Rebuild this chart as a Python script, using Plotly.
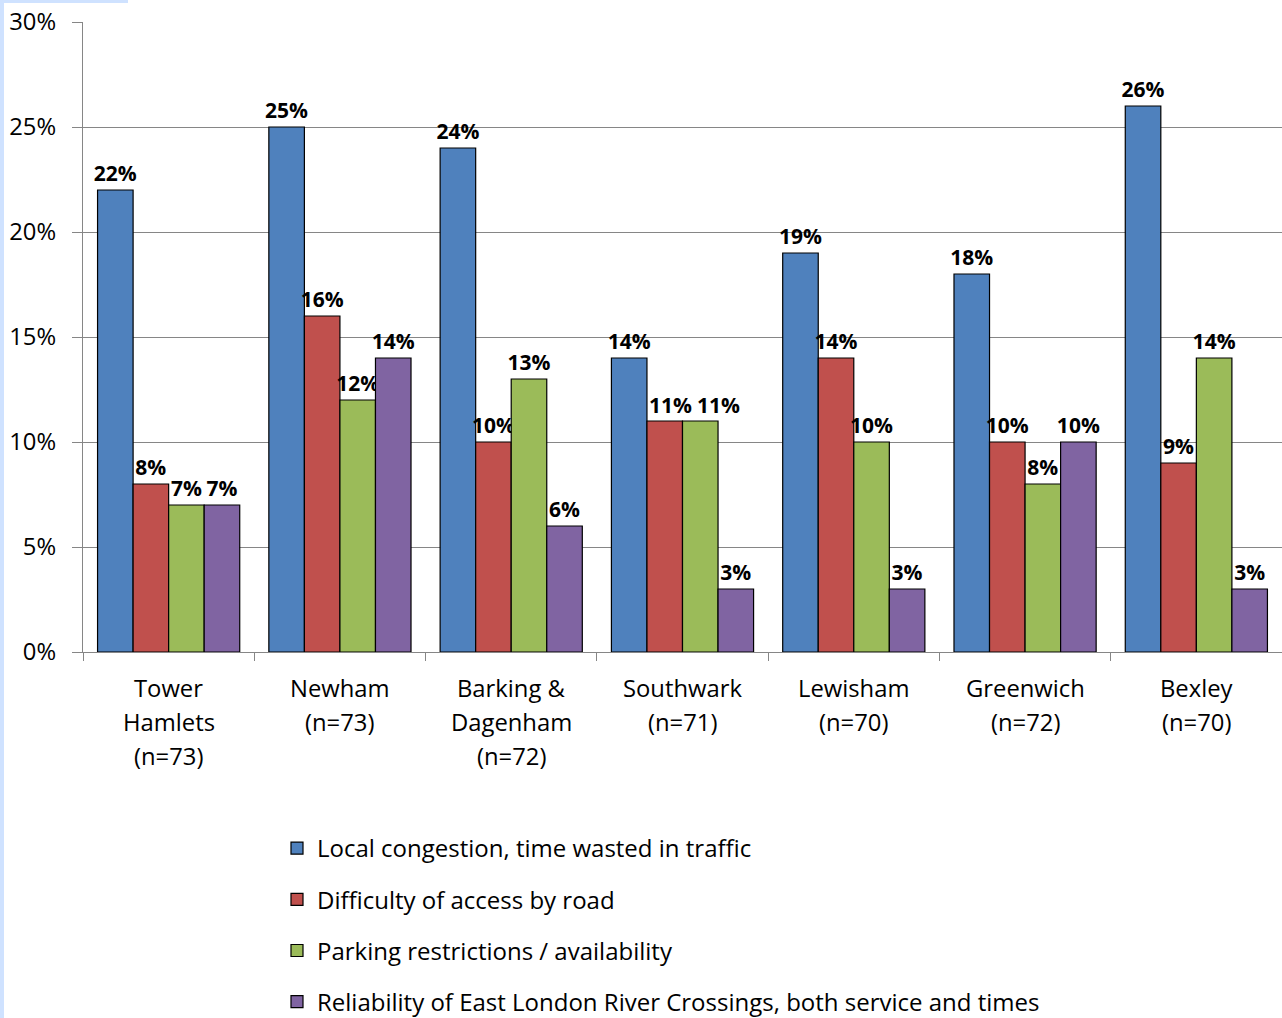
import plotly.graph_objects as go

categories = ["Tower Hamlets (n=73)", "Newham (n=73)", "Barking & Dagenham (n=72)",
              "Southwark (n=71)", "Lewisham (n=70)", "Greenwich (n=72)", "Bexley (n=70)"]
category_lines = [["Tower", "Hamlets", "(n=73)"], ["Newham", "(n=73)"], ["Barking &", "Dagenham", "(n=72)"],
                  ["Southwark", "(n=71)"], ["Lewisham", "(n=70)"], ["Greenwich", "(n=72)"], ["Bexley", "(n=70)"]]

series_names = ["Local congestion, time wasted in traffic",
                "Difficulty of access by road",
                "Parking restrictions / availability",
                "Reliability of East London River Crossings, both service and times"]
congestion = [22, 25, 24, 14, 19, 18, 26]
access = [8, 16, 10, 11, 14, 10, 9]
parking = [7, 12, 13, 11, 10, 8, 14]
crossings = [7, 14, 6, 3, 3, 10, 3]
series_values = [congestion, access, parking, crossings]
colors = ["#4F81BD", "#C0504D", "#9BBB59", "#8064A2"]

y_ticks = [0, 5, 10, 15, 20, 25, 30]

# labels nudged sideways (series index, category index) -> pixel shift from group centre
label_nudges = {(1, 3): -12, (2, 3): 36}

FONT = "Open Sans"
AX = 23.8
LBL = 21

fig = go.Figure()
annotations = []
for i, (name, vals, col) in enumerate(zip(series_names, series_values, colors)):
    texts = []
    for k, v in enumerate(vals):
        if (i, k) in label_nudges:
            texts.append("")
            annotations.append(dict(
                x=categories[k], xref="x", y=v, yref="y", xshift=label_nudges[(i, k)],
                yanchor="bottom", xanchor="center", showarrow=False, text=f"{v}%",
                font=dict(family=FONT, size=LBL, color="black", weight="bold"), yshift=0,
            ))
        else:
            texts.append(f"{v}%")
    fig.add_trace(go.Bar(
        x=categories, y=vals, name=name,
        marker=dict(color=col, line=dict(color="black", width=1.2)),
        text=texts, textposition="outside",
        textfont=dict(family=FONT, size=LBL, color="black", weight="bold"),
        constraintext="none", cliponaxis=False,
        legendgroup=f"g{i}",
    ))

for cat, lines in zip(categories, category_lines):
    for j, line in enumerate(lines):
        annotations.append(dict(
            x=cat, xref="x", y=-36 / 630 - j * 34 / 630, yref="paper",
            text=line, showarrow=False, yanchor="middle", xanchor="center",
            font=dict(family=FONT, size=AX, color="black"),
        ))

W, H = 1282, 1018
L, R, T, B = 83, 0, 22, 366
pw, ph = W - L - R, H - T - B
def px(x):
    return (x - L) / pw
def py(y):
    return (H - B - y) / ph

shapes = [
    dict(type="rect", xref="paper", yref="paper", x0=px(0), x1=px(4), y0=py(H), y1=py(0),
         fillcolor="#CFE2FF", line=dict(width=0), layer="below"),
    dict(type="rect", xref="paper", yref="paper", x0=px(0), x1=px(128), y0=py(3), y1=py(0),
         fillcolor="#CFE2FF", line=dict(width=0), layer="below"),
]

fig.update_layout(
    width=W, height=H,
    margin=dict(l=L, r=R, t=T, b=B, pad=0, autoexpand=False),
    paper_bgcolor="white", plot_bgcolor="white",
    barmode="group", bargap=0.17, bargroupgap=0,
    font=dict(family=FONT, size=AX, color="black"),
    showlegend=True,
    legend=dict(
        orientation="v", x=px(277), xanchor="left", y=py(826), yanchor="top",
        font=dict(family=FONT, size=24, color="black"),
        tracegroupgap=17, traceorder="grouped", itemwidth=30,
        bgcolor="rgba(0,0,0,0)",
    ),
    annotations=annotations,
    shapes=shapes,
)
fig.update_xaxes(
    type="category", showticklabels=False, showline=True, linecolor="#868686", linewidth=1.2,
    ticks="outside", tickson="boundaries", ticklen=8, tickcolor="#868686", tickwidth=1.2,
    showgrid=False, zeroline=False,
)
fig.update_yaxes(
    range=[0, 30], tickvals=y_ticks, ticktext=[f"{v}%" for v in y_ticks],
    showline=True, linecolor="#868686", linewidth=1.2,
    ticks="outside", ticklen=10, tickcolor="#868686", tickwidth=1.2,
    showgrid=True, gridcolor="#868686", gridwidth=1.2, zeroline=False,
    tickfont=dict(family=FONT, size=AX, color="black"), ticklabelstandoff=11,
)

fig.write_html("out.html")
